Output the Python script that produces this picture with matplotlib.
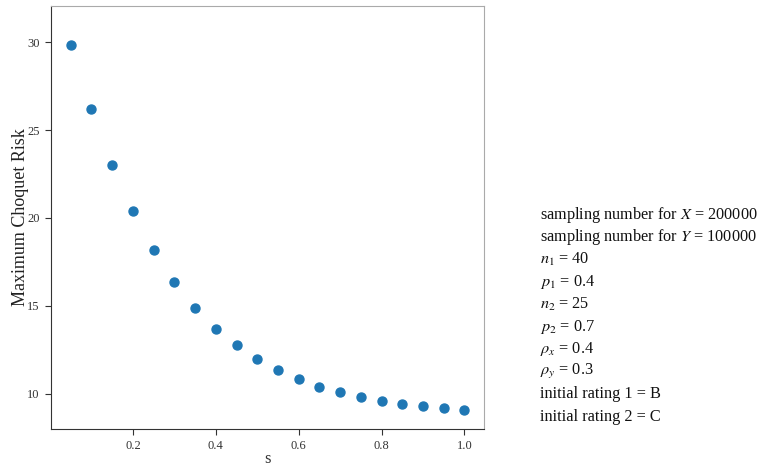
import matplotlib
matplotlib.use("Agg")
import matplotlib.pyplot as plt

plt.rcParams['font.family'] = ['Liberation Serif', 'DejaVu Serif']
plt.rcParams['mathtext.fontset'] = 'stix'

# data
s_values = [0.05, 0.10, 0.15, 0.20, 0.25, 0.30, 0.35, 0.40, 0.45, 0.50,
            0.55, 0.60, 0.65, 0.70, 0.75, 0.80, 0.85, 0.90, 0.95, 1.00]
max_risk = [29.83, 26.19, 23.01, 20.40, 18.18, 16.36, 14.89, 13.69, 12.78, 11.99,
            11.36, 10.85, 10.41, 10.10, 9.83, 9.60, 9.43, 9.30, 9.19, 9.07]

param_lines = [
    r'sampling number for $X$ = 200000',
    r'sampling number for $Y$ = 100000',
    r'$n_1$ = 40',
    r'$p_1$ = 0.4',
    r'$n_2$ = 25',
    r'$p_2$ = 0.7',
    r'$\rho_x$ = 0.4',
    r'$\rho_y$ = 0.3',
    'initial rating 1 = B',
    'initial rating 2 = C',
]

fig = plt.figure(figsize=(7.66, 4.66), dpi=100)
ax = fig.add_axes([0.0666, 0.0794, 0.5655, 0.9076])

ax.scatter(s_values, max_risk, s=42, color='#1f77b4', zorder=3)
ax.set_ylim(8.0, 32.05)
ax.set_xticks([0.2, 0.4, 0.6, 0.8, 1.0])
ax.set_yticks([10, 15, 20, 25, 30])
ax.tick_params(labelsize=9, colors='#333333', length=4, width=0.8, pad=4)

for side in ['left', 'bottom']:
    ax.spines[side].set_color('#333333')
for side in ['top', 'right']:
    ax.spines[side].set_color('#aaaaaa')

ax.set_xlabel('s', fontsize=12, color='#333333', labelpad=-1)
ax.set_ylabel('Maximum Choquet Risk', fontsize=13, color='#222222', labelpad=-1)

# parameter block on the right
y0 = 1 - 215 / 466
for i, line in enumerate(param_lines):
    fig.text(0.705, y0 - i * 22.4 / 466, line, fontsize=11.7, va='center', ha='left', color='#111111')

fig.savefig('out.png', dpi=100)
